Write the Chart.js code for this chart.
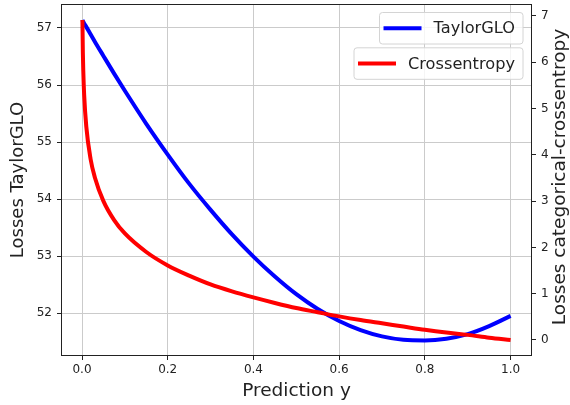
<!DOCTYPE html>
<html>
<head>
<meta charset="utf-8">
<script src="https://cdn.jsdelivr.net/npm/chart.js@4.4.1/dist/chart.umd.min.js"></script>
<style>
  body { margin: 0; background: #fff; }
  canvas { display: block; }
</style>
</head>
<body>
<canvas id="lossChart" width="570" height="405"></canvas>
<script>
// values
const predX = [0.001, 0.002, 0.003, 0.005, 0.01, 0.02, 0.03, 0.05, 0.075, 0.1, 0.15, 0.2, 0.25, 0.3, 0.35,
               0.4, 0.45, 0.5, 0.55, 0.6, 0.65, 0.7, 0.75, 0.8, 0.85, 0.9, 0.95, 1.0];
const taylorGLO = [57.14, 57.12, 57.11, 57.08, 57.02, 56.89, 56.76, 56.51, 56.20, 55.90, 55.32, 54.78, 54.27, 53.81, 53.38,
                   52.99, 52.64, 52.33, 52.07, 51.86, 51.70, 51.59, 51.53, 51.52, 51.55, 51.63, 51.77, 51.95];
const crossentropy = [6.91, 6.21, 5.81, 5.30, 4.61, 3.91, 3.51, 3.00, 2.59, 2.30, 1.90, 1.61, 1.39, 1.20, 1.05,
                      0.92, 0.80, 0.69, 0.60, 0.51, 0.43, 0.36, 0.29, 0.22, 0.16, 0.11, 0.05, 0.00];
const xTicks = [0, 0.2, 0.4, 0.6, 0.8, 1.0];
const leftTicks = [52, 53, 54, 55, 56, 57];
const rightTicks = [0, 1, 2, 3, 4, 5, 6, 7];

const FONT = "'DejaVu Sans', sans-serif";
const TEXT = "#222";

// no extra room for the end labels, the plot box is fixed
function noPad(s) {
    s.paddingTop = 0;
    s.paddingBottom = 0;
    s.paddingLeft = 0;
    s.paddingRight = 0;
}

// frame, the two legend boxes and the right axis title (matplotlib style)
const mplExtras = {
    id: "mplExtras",
    beforeDraw(chart) {
        const ctx = chart.ctx;
        ctx.save();
        ctx.fillStyle = "#fff";
        ctx.fillRect(0, 0, chart.width, chart.height);
        ctx.restore();
    },
    afterDraw(chart) {
        const ctx = chart.ctx;
        const a = chart.chartArea;
        ctx.save();
        ctx.strokeStyle = TEXT;
        ctx.lineWidth = 1;
        ctx.strokeRect(a.left + 0.5, a.top + 0.5, a.right - a.left - 1, a.bottom - a.top - 1);

        // legends, one box per dataset, right aligned
        ctx.font = "16.2px " + FONT;
        ctx.textBaseline = "middle";
        chart.data.datasets.forEach((ds, i) => {
            const tw = ctx.measureText(ds.label).width;
            const boxRight = 523, boxTop = 12.5 + i * 35.3, boxH = 31.5;
            const boxW = 4 + 38 + 12 + tw + 8;
            const boxLeft = boxRight - boxW;
            ctx.fillStyle = "rgba(255,255,255,0.8)";
            ctx.strokeStyle = "#d4d4d4";
            ctx.lineWidth = 1;
            ctx.beginPath();
            ctx.roundRect(boxLeft, boxTop, boxW, boxH, 3);
            ctx.fill();
            ctx.stroke();
            const cy = boxTop + boxH / 2;
            ctx.strokeStyle = ds.borderColor;
            ctx.lineWidth = 4;
            ctx.beginPath();
            ctx.moveTo(boxLeft + 4, cy);
            ctx.lineTo(boxLeft + 42, cy);
            ctx.stroke();
            ctx.fillStyle = TEXT;
            ctx.textAlign = "left";
            ctx.fillText(ds.label, boxLeft + 54, cy + 1);
        });

        // right axis title, reading bottom to top
        ctx.translate(560, 177);
        ctx.rotate(-Math.PI / 2);
        ctx.font = "18.5px " + FONT;
        ctx.fillStyle = TEXT;
        ctx.textAlign = "center";
        ctx.textBaseline = "middle";
        ctx.fillText("Losses categorical-crossentropy", 0, 0);
        ctx.restore();
    }
};

const ctx = document.getElementById("lossChart").getContext("2d");
new Chart(ctx, {
    type: "line",
    data: {
        datasets: [{
            label: "TaylorGLO",
            data: predX.map((x, i) => ({ x: x, y: taylorGLO[i] })),
            borderColor: "#0000ff",
            borderWidth: 4,
            pointRadius: 0,
            cubicInterpolationMode: "monotone",
            yAxisID: "y",
            order: 1
        }, {
            label: "Crossentropy",
            data: predX.map((x, i) => ({ x: x, y: crossentropy[i] })),
            borderColor: "#ff0000",
            borderWidth: 4,
            pointRadius: 0,
            cubicInterpolationMode: "monotone",
            yAxisID: "y1",
            order: 0
        }]
    },
    options: {
        responsive: false,
        animation: false,
        devicePixelRatio: 1,
        layout: { padding: { top: 4, left: 0, right: 0, bottom: 0 } },
        plugins: { legend: { display: false }, tooltip: { enabled: false } },
        scales: {
            x: {
                type: "linear",
                min: -0.049,
                max: 1.05,
                afterBuildTicks: s => { s.ticks = xTicks.map(v => ({ value: v })); },
                afterFit: s => { s.height = 49; noPad(s); },
                ticks: { callback: v => v.toFixed(1), font: { size: 12, family: FONT }, color: TEXT, padding: 3 },
                grid: { color: "#cbcbcb", tickColor: TEXT, tickLength: 4 },
                border: { display: false },
                title: { display: true, text: "Prediction y", font: { size: 18.5, family: FONT }, color: TEXT, padding: { top: 0, bottom: 3 } }
            },
            y: {
                position: "left",
                min: 51.246,
                max: 57.421,
                afterBuildTicks: s => { s.ticks = leftTicks.map(v => ({ value: v })); },
                afterFit: s => { s.width = 61; noPad(s); },
                ticks: { font: { size: 12, family: FONT }, color: TEXT, padding: 5 },
                grid: { color: "#cbcbcb", tickColor: TEXT, tickLength: 4 },
                border: { display: false },
                title: { display: true, text: "Losses TaylorGLO", font: { size: 18, family: FONT }, color: TEXT, padding: { top: 7.5, bottom: 0 } }
            },
            y1: {
                position: "right",
                min: -0.346,
                max: 7.257,
                afterBuildTicks: s => { s.ticks = rightTicks.map(v => ({ value: v })); },
                afterFit: s => { s.width = 38; noPad(s); },
                ticks: { font: { size: 12, family: FONT }, color: TEXT, padding: 5 },
                grid: { drawOnChartArea: false, tickColor: TEXT, tickLength: 4 },
                border: { display: false }
            }
        }
    },
    plugins: [mplExtras]
});
</script>
</body>
</html>
